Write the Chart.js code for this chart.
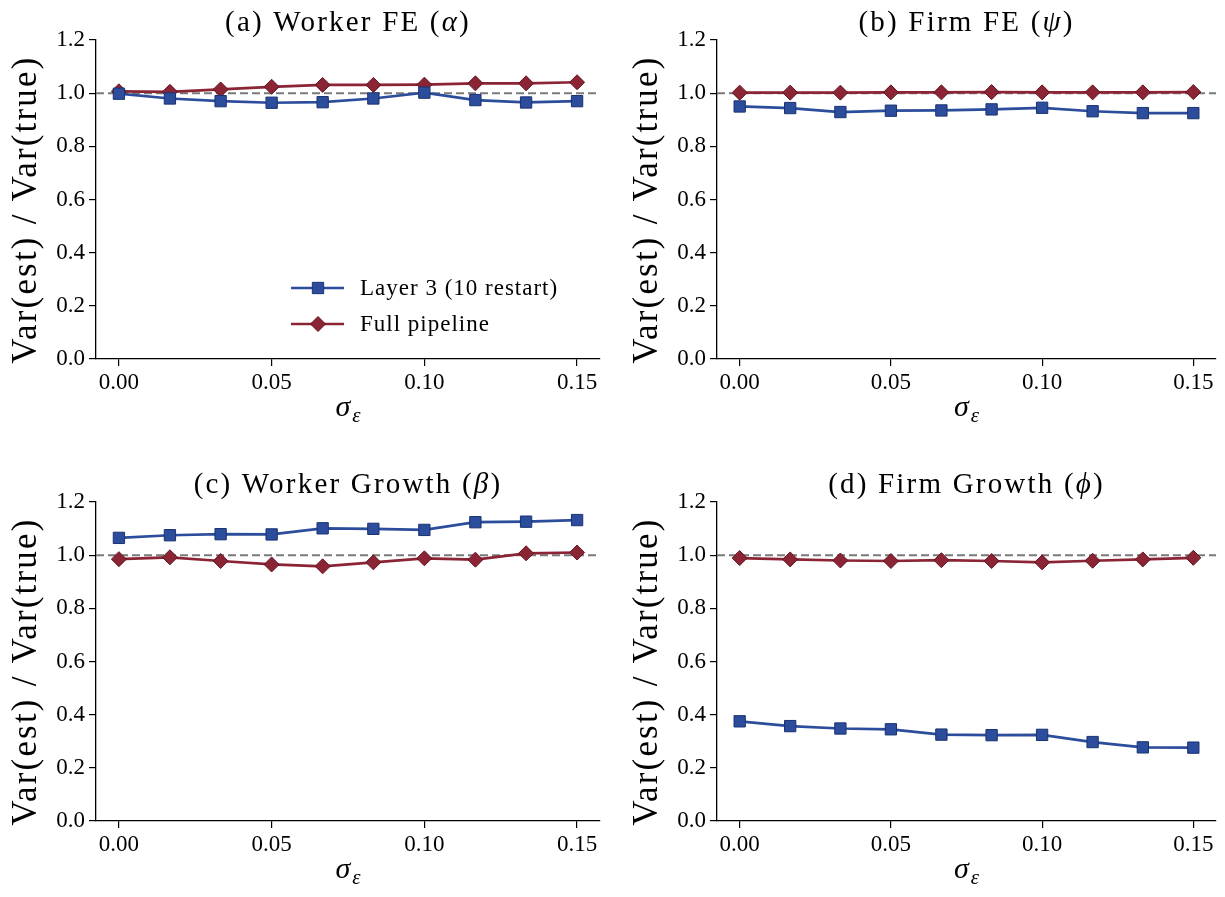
<!DOCTYPE html>
<html>
<head>
<meta charset="utf-8">
<script src="https://cdn.jsdelivr.net/npm/chart.js@4.4.1/dist/chart.umd.min.js"></script>
<style>
  html, body { margin: 0; padding: 0; background: #fff; }
  #wrap { position: relative; width: 1225px; height: 897px; }
  canvas { position: absolute; }
</style>
</head>
<body>
<div id="wrap">
  <canvas id="pa" width="612" height="448" style="left:0;top:0"></canvas>
  <canvas id="pb" width="613" height="448" style="left:612px;top:0"></canvas>
  <canvas id="pc" width="612" height="449" style="left:0;top:448px"></canvas>
  <canvas id="pd" width="613" height="449" style="left:612px;top:448px"></canvas>
</div>
<script>
// ---------------- Data ----------------
const sigmaVals = [0, 0.0167, 0.0333, 0.05, 0.0667, 0.0833, 0.1, 0.1167, 0.1333, 0.15];
const xTicks = [0, 0.05, 0.10, 0.15];
const yTicks = [0, 0.2, 0.4, 0.6, 0.8, 1.0, 1.2];
const refLine = 1.0;

const seriesNames = ["Layer 3 (10 restart)", "Full pipeline"];

const workerFeLayer3 = [0.998, 0.980, 0.970, 0.964, 0.966, 0.980, 1.002, 0.974, 0.965, 0.970];
const workerFeFull   = [1.007, 1.005, 1.014, 1.024, 1.031, 1.031, 1.032, 1.037, 1.037, 1.041];
const firmFeLayer3   = [0.950, 0.944, 0.929, 0.934, 0.935, 0.939, 0.945, 0.932, 0.925, 0.925];
const firmFeFull     = [1.002, 1.002, 1.002, 1.003, 1.003, 1.004, 1.003, 1.003, 1.003, 1.004];
const workerGrLayer3 = [1.065, 1.075, 1.079, 1.078, 1.101, 1.099, 1.095, 1.124, 1.126, 1.132];
const workerGrFull   = [0.985, 0.992, 0.978, 0.965, 0.958, 0.973, 0.988, 0.983, 1.007, 1.010];
const firmGrLayer3   = [0.375, 0.357, 0.348, 0.345, 0.325, 0.323, 0.324, 0.297, 0.277, 0.276];
const firmGrFull     = [0.989, 0.984, 0.980, 0.978, 0.981, 0.978, 0.973, 0.979, 0.984, 0.990];

// title pieces: [plain, greek (italic), plain]
const titleA = ["(a) Worker FE (", "α", ")"];
const titleB = ["(b) Firm FE (", "ψ", ")"];
const titleC = ["(c) Worker Growth (", "β", ")"];
const titleD = ["(d) Firm Growth (", "ϕ", ")"];

const yLabel = "Var(est) / Var(true)";

// ---------------- Styles ----------------
const FONT = "'Liberation Serif', 'Times New Roman', serif";
const BLUE = "#2c4c9c";
const BLUE_EDGE = "#1b3272";
const RED = "#8b2434";
const RED_EDGE = "#5f1522";

// ---------------- Helpers ----------------
function drawRuns(ctx, runs, cx, y) {
  let total = 0;
  runs.forEach(r => { ctx.font = r.font; total += ctx.measureText(r.t).width; });
  let x = cx - total / 2;
  runs.forEach(r => {
    ctx.font = r.font;
    ctx.fillText(r.t, x, y);
    x += ctx.measureText(r.t).width;
  });
}

function drawMarker(ctx, style, x, y, r, fill, edge) {
  ctx.save();
  ctx.fillStyle = fill;
  ctx.strokeStyle = edge;
  ctx.lineWidth = 1;
  ctx.beginPath();
  if (style === "rect") {
    const s = Math.SQRT1_2 * r;
    ctx.rect(x - s, y - s, 2 * s, 2 * s);
  } else {
    ctx.moveTo(x - r, y);
    ctx.lineTo(x, y - r);
    ctx.lineTo(x + r, y);
    ctx.lineTo(x, y + r);
    ctx.closePath();
  }
  ctx.fill();
  ctx.stroke();
  ctx.restore();
}

// ---------------- Plugin: titles, labels, ref line, legend ----------------
const panelText = {
  id: "panelText",
  beforeDatasetsDraw(chart) {
    const { ctx, chartArea: a, scales } = chart;
    const yy = scales.y.getPixelForValue(refLine);
    ctx.save();
    ctx.strokeStyle = "#7a7a7a";
    ctx.lineWidth = 2;
    ctx.setLineDash([8, 4]);
    ctx.beginPath();
    ctx.moveTo(a.left, yy);
    ctx.lineTo(a.right, yy);
    ctx.stroke();
    ctx.restore();
  },
  afterDraw(chart, args, opts) {
    const { ctx, chartArea: a } = chart;
    const cx = (a.left + a.right) / 2;
    ctx.save();
    ctx.fillStyle = "#000";
    ctx.textBaseline = "alphabetic";
    ctx.textAlign = "left";

    // title
    const t = opts.title;
    ctx.letterSpacing = "2.2px";
    drawRuns(ctx, [
      { t: t[0], font: "29px " + FONT },
      { t: t[1], font: "italic 29px " + FONT },
      { t: t[2], font: "29px " + FONT }
    ], cx, a.top - 9);
    ctx.letterSpacing = "0px";

    // x label sigma_epsilon
    ctx.font = "italic 30px " + FONT;
    const sw = ctx.measureText("σ").width;
    ctx.font = "italic 21px " + FONT;
    const ew = ctx.measureText("ε").width;
    const sx = cx - (sw + ew + 2) / 2;
    ctx.font = "italic 30px " + FONT;
    ctx.fillText("σ", sx, a.bottom + 57);
    ctx.font = "italic 21px " + FONT;
    ctx.fillText("ε", sx + sw + 2, a.bottom + 63);

    // y label
    ctx.save();
    ctx.translate(a.left - 69, (a.top + a.bottom) / 2 + 10);
    ctx.rotate(-Math.PI / 2);
    ctx.textAlign = "center";
    ctx.textBaseline = "middle";
    ctx.letterSpacing = "2.2px";
    ctx.font = "35px " + FONT;
    ctx.fillText(yLabel, 0, 0);
    ctx.restore();

    // legend
    if (opts.legend) {
      const ds = chart.data.datasets;
      const rows = [a.bottom - 71, a.bottom - 35];
      ds.forEach((d, i) => {
        const ly = rows[i];
        ctx.strokeStyle = d.borderColor;
        ctx.lineWidth = d.borderWidth;
        ctx.beginPath();
        ctx.moveTo(a.left + 195, ly);
        ctx.lineTo(a.left + 248, ly);
        ctx.stroke();
        drawMarker(ctx, d.pointStyle, a.left + 222, ly, d.pointRadius, d.backgroundColor, d.pointBorderColor);
        ctx.fillStyle = "#000";
        ctx.textBaseline = "middle";
        ctx.letterSpacing = "1px";
        ctx.font = "23px " + FONT;
        ctx.fillText(d.label, a.left + 264, ly + 1);
        ctx.letterSpacing = "0px";
      });
    }
    ctx.restore();
  }
};

// ---------------- Panels ----------------
function makePanel(id, title, layer3, full, pad, showLegend) {
  const ctx = document.getElementById(id);
  new Chart(ctx, {
    type: "line",
    data: {
      datasets: [
        {
          label: seriesNames[0],
          data: sigmaVals.map((x, i) => ({ x, y: layer3[i] })),
          borderColor: BLUE,
          backgroundColor: BLUE,
          pointBorderColor: BLUE_EDGE,
          pointStyle: "rect",
          pointRadius: 8,
          pointBorderWidth: 1,
          borderWidth: 2.7,
          tension: 0
        },
        {
          label: seriesNames[1],
          data: sigmaVals.map((x, i) => ({ x, y: full[i] })),
          borderColor: RED,
          backgroundColor: RED,
          pointBorderColor: RED_EDGE,
          pointStyle: "rectRot",
          pointRadius: 7.5,
          pointBorderWidth: 1,
          borderWidth: 2.7,
          tension: 0
        }
      ]
    },
    options: {
      responsive: false,
      animation: false,
      clip: false,
      layout: { padding: pad },
      plugins: {
        legend: { display: false },
        tooltip: { enabled: false },
        panelText: { title, legend: showLegend }
      },
      scales: {
        x: {
          type: "linear",
          min: -0.0075,
          max: 0.1575,
          afterBuildTicks: s => { s.ticks = xTicks.map(v => ({ value: v })); },
          afterFit: s => { s.height = 60; },
          ticks: {
            callback: v => v.toFixed(2),
            color: "#000",
            font: { family: FONT, size: 23 },
            padding: 3,
            maxRotation: 0,
            autoSkip: false
          },
          grid: { drawOnChartArea: false, drawTicks: true, tickLength: 7, color: "#000", lineWidth: 1.2 },
          border: { display: true, color: "#000", width: 1.3 }
        },
        y: {
          min: 0,
          max: 1.2,
          afterBuildTicks: s => { s.ticks = yTicks.map(v => ({ value: v })); },
          afterFit: s => { s.width = 60; },
          ticks: {
            callback: v => v.toFixed(1),
            color: "#000",
            font: { family: FONT, size: 23 },
            padding: 4
          },
          grid: { drawOnChartArea: false, drawTicks: true, tickLength: 7, color: "#000", lineWidth: 1.2 },
          border: { display: true, color: "#000", width: 1.3 }
        }
      }
    },
    plugins: [panelText]
  });
}

// ---------------- Init ----------------
makePanel("pa", titleA, workerFeLayer3, workerFeFull, { left: 36, right: 12, top: 40, bottom: 29 }, true);
makePanel("pb", titleB, firmFeLayer3, firmFeFull, { left: 45, right: 4, top: 40, bottom: 29 }, false);
makePanel("pc", titleC, workerGrLayer3, workerGrFull, { left: 36, right: 12, top: 54, bottom: 16 }, false);
makePanel("pd", titleD, firmGrLayer3, firmGrFull, { left: 45, right: 4, top: 54, bottom: 16 }, false);
</script>
</body>
</html>
